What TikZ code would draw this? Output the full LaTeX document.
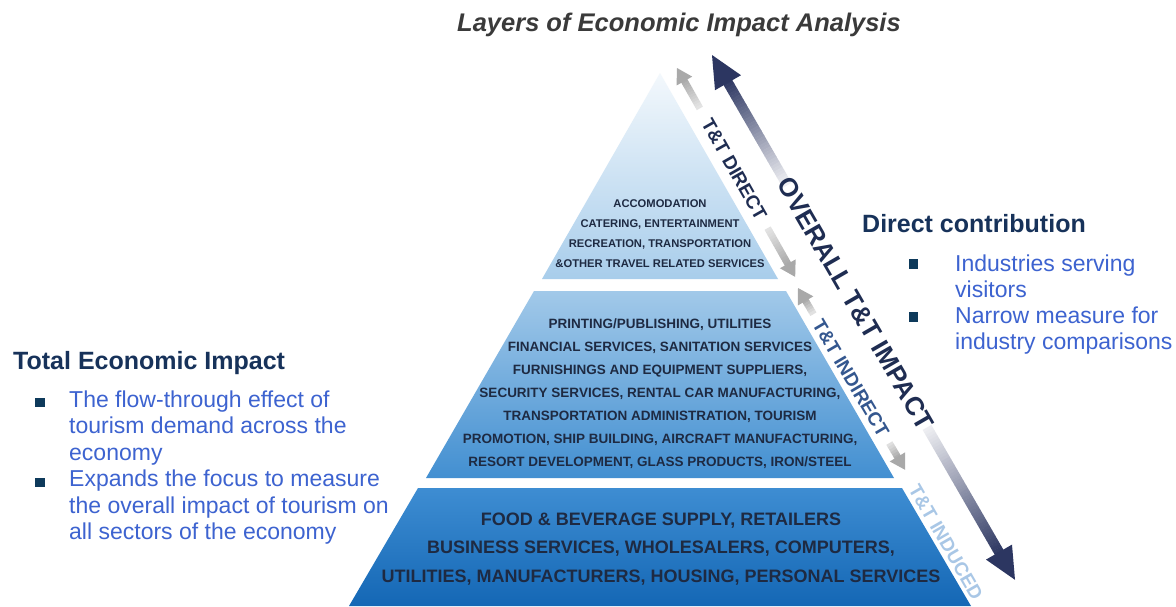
\documentclass[tikz,border=0pt]{standalone}
\usepackage{fontspec}
\setmainfont{Liberation Sans}
\usetikzlibrary{calc}
\definecolor{titlegray}{HTML}{3A3A3A}
\definecolor{headnavy}{HTML}{17325A}
\definecolor{bulletsq}{HTML}{0E3A5B}
\definecolor{bulletblue}{HTML}{3D63D0}
\definecolor{pyrtext}{HTML}{1E2A42}
\definecolor{tierAtop}{HTML}{F3F8FC}
\definecolor{tierAbot}{HTML}{A8CDEB}
\definecolor{tierBtop}{HTML}{A2C9E9}
\definecolor{tierBbot}{HTML}{428FD1}
\definecolor{tierCtop}{HTML}{3E8DD2}
\definecolor{tierCbot}{HTML}{1467B5}
\definecolor{bignavy}{HTML}{2C3661}
\definecolor{bigfade}{HTML}{F2F2F5}
\definecolor{graydark}{HTML}{A9A9A9}
\definecolor{graylight}{HTML}{E6E6E6}
\definecolor{labnavy}{HTML}{1F2D52}
\definecolor{labblue}{HTML}{34578F}
\definecolor{labpale}{HTML}{A9C7E6}
\newcommand\gradbar[6]{%
  \foreach \k in {1,...,#6}{%
    \pgfmathsetmacro\gxa{#1+(#2-#1)*(\k-1)/#6}%
    \pgfmathsetmacro\gxb{#1+(#2-#1)*\k/#6+0.4}%
    \pgfmathtruncatemacro\gpc{100-100*(\k-0.5)/#6}%
    \fill[#4!\gpc!#5] (\gxa,-#3) rectangle (\gxb,#3);
  }}
\begin{document}
\begin{tikzpicture}[x=1pt,y=-1pt,
  titletext/.style={font=\bfseries\itshape\fontsize{25.5}{30}\selectfont, text=titlegray, anchor=base, inner sep=0pt},
  headtext/.style={font=\bfseries\fontsize{25}{30}\selectfont, text=headnavy, anchor=base west, inner sep=0pt},
  btext/.style={font=\fontsize{23}{26}\selectfont, text=bulletblue, anchor=base west, inner sep=0pt},
  bsq/.style={fill=bulletsq, minimum size=9.5pt, inner sep=0pt, draw=none},
  toptext/.style={font=\bfseries\fontsize{11.2}{13}\selectfont, text=pyrtext, anchor=base, inner sep=0pt},
  midtext/.style={font=\bfseries\fontsize{13.5}{16}\selectfont, text=pyrtext, anchor=base, inner sep=0pt},
  bottext/.style={font=\bfseries\fontsize{18}{21}\selectfont, text=pyrtext, anchor=base, inner sep=0pt},
  biglabel/.style={font=\bfseries\fontsize{26}{30}\selectfont, text=labnavy, inner sep=0pt},
  smalllabel/.style={font=\bfseries\fontsize{19}{22}\selectfont, inner sep=0pt},
]
\useasboundingbox (0,0) rectangle (1176,606);
\fill[white] (0,0) rectangle (1176,606);

% ---------- pyramid tiers ----------
\shade[top color=tierAtop, bottom color=tierAbot]
  (660,73) -- (778,279) -- (542,279) -- cycle;
\shade[top color=tierBtop, bottom color=tierBbot]
  (534,291) -- (786,291) -- (894,478) -- (426,478) -- cycle;
\shade[top color=tierCtop, bottom color=tierCbot]
  (418,488) -- (902,488) -- (971,606) -- (349,606) -- cycle;

% ---------- tier texts ----------
\node[toptext] (ta) at (660,207) {ACCOMODATION};
\node[toptext] (tb) at (660,227) {CATERING, ENTERTAINMENT};
\node[toptext] (tc) at (660,247) {RECREATION, TRANSPORTATION};
\node[toptext] (td) at (660,267) {\&OTHER TRAVEL RELATED SERVICES};

\node[midtext] (ma) at (660,328.5) {PRINTING/PUBLISHING, UTILITIES};
\node[midtext] (mb) at (660,351.5) {FINANCIAL SERVICES, SANITATION SERVICES};
\node[midtext] (mc) at (660,374.5) {FURNISHINGS AND EQUIPMENT SUPPLIERS,};
\node[midtext] (md) at (660,397.5) {SECURITY SERVICES, RENTAL CAR MANUFACTURING,};
\node[midtext] (me) at (660,420.5) {TRANSPORTATION ADMINISTRATION, TOURISM};
\node[midtext] (mf) at (660,443.5) {PROMOTION, SHIP BUILDING, AIRCRAFT MANUFACTURING,};
\node[midtext] (mg) at (660,466.5) {RESORT DEVELOPMENT, GLASS PRODUCTS, IRON/STEEL};

\node[bottext] (ba) at (661,525.5) {FOOD \& BEVERAGE SUPPLY, RETAILERS};
\node[bottext] (bb) at (661,553.5) {BUSINESS SERVICES, WHOLESALERS, COMPUTERS,};
\node[bottext] (bc) at (661,582) {UTILITIES, MANUFACTURERS, HOUSING, PERSONAL SERVICES};

% ---------- overall arrow ----------
\coordinate (bigA) at (712,55);
\coordinate (bigB) at (1015,580);
\begin{scope}[shift={(bigA)}, rotate=-60]
  \gradbar{30}{150}{5}{bignavy}{bigfade}{40}
  \gradbar{430}{576}{5}{bigfade}{bignavy}{48}
  \fill[bignavy] (0,0) -- (32,-15) -- (32,15) -- cycle;
  \fill[bignavy] (606,0) -- (574,-15) -- (574,15) -- cycle;
\end{scope}
\node[biglabel, rotate=-60] (overall) at (855.5,303.5) {OVERALL T\&T IMPACT};

% ---------- direct arrow ----------
\coordinate (dirA) at (677,68);
\coordinate (dirB) at (795,277);
\begin{scope}[shift={(dirA)}, rotate=-60.5]
  \gradbar{14}{46}{3.5}{graydark}{graylight}{12}
  \gradbar{184}{226}{3.5}{graylight}{graydark}{14}
  \fill[graydark] (0,0) -- (15,-9) -- (15,9) -- cycle;
  \fill[graydark] (240,0) -- (225,-9) -- (225,9) -- cycle;
\end{scope}
\node[smalllabel, text=labnavy, rotate=-60.5] (direct) at (734.3,169.5) {T\&T DIRECT};

% ---------- indirect arrow ----------
\coordinate (indA) at (798,288);
\coordinate (indB) at (905,470);
\begin{scope}[shift={(indA)}, rotate=-59.5]
  \gradbar{14}{30}{3.5}{graydark}{graylight}{6}
  \gradbar{180}{197}{3.5}{graylight}{graydark}{6}
  \fill[graydark] (0,0) -- (15,-9) -- (15,9) -- cycle;
  \fill[graydark] (211,0) -- (196,-9) -- (196,9) -- cycle;
\end{scope}
\node[smalllabel, text=labblue, rotate=-59.5] (indirect) at (851,378.5) {T\&T INDIRECT};

% ---------- induced label ----------
\node[smalllabel, text=labpale, rotate=-60] (induced) at (946,542) {T\&T INDUCED};

% ---------- title ----------
\node[titletext] (title) at (679,31) {Layers of Economic Impact Analysis};

% ---------- right text ----------
\node[headtext] (righthead) at (862,232) {Direct contribution};
\node[bsq] (rb1) at (913.5,264) {};
\node[bsq] (rb2) at (913.5,317) {};
\node[btext] (r1) at (955,271) {Industries serving};
\node[btext] (r2) at (955,297) {visitors};
\node[btext] (r3) at (955,323) {Narrow measure for};
\node[btext] (r4) at (955,349) {industry comparisons};

% ---------- left text ----------
\node[headtext] (lefthead) at (13,369) {Total Economic Impact};
\node[bsq] (lb1) at (40,402.5) {};
\node[bsq] (lb2) at (40,482.5) {};
\node[btext] (l1) at (69,407) {The flow-through effect of};
\node[btext] (l2) at (69,433.5) {tourism demand across the};
\node[btext] (l3) at (69,460) {economy};
\node[btext] (l4) at (69,486.5) {Expands the focus to measure};
\node[btext] (l5) at (69,513) {the overall impact of tourism on};
\node[btext] (l6) at (69,539.5) {all sectors of the economy};
\end{tikzpicture}
\end{document}
